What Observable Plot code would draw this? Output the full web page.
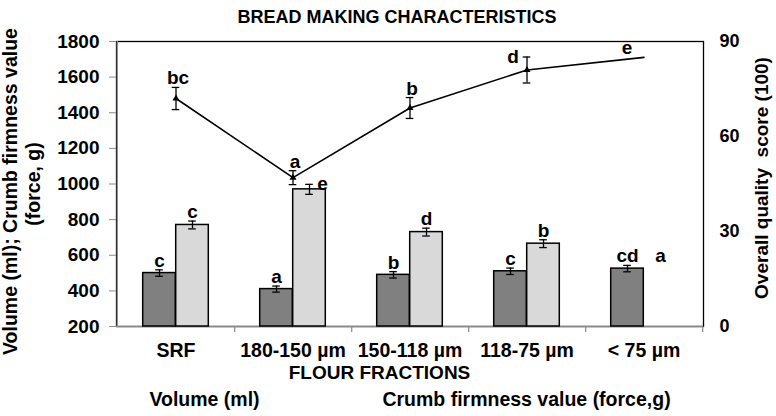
<!DOCTYPE html>
<html>
<head>
<meta charset="utf-8">
<script src="https://cdn.jsdelivr.net/npm/d3@7"></script>
<script src="https://cdn.jsdelivr.net/npm/@observablehq/plot@0.6"></script>
<style>
  body { margin: 0; background: #fff; }
  #chart svg { display: block; }
</style>
</head>
<body>
<div id="chart"></div>
<script>
const categories = ["SRF", "180-150 µm", "150-118 µm", "118-75 µm", "< 75 µm"];
const volume = [500, 410, 490, 510, 525];
const volumeErr = [18, 17, 18, 18, 18];
const firmness = [770, 970, 730, 665, null];
const firmnessErr = [22, 28, 22, 22, null];
const score = [72, 47, 69, 81, 85];
const scoreErr = [3.5, 2.2, 3.3, 4.1, null];
const volumeLetters = ["c", "a", "b", "c", "cd"];
const firmnessLetters = ["c", "e", "d", "b", "a"];
const scoreLetters = ["bc", "a", "b", "d", "e"];
const leftTicks = [200, 400, 600, 800, 1000, 1200, 1400, 1600, 1800];
const rightTicks = [0, 30, 60, 90];

const W = 776, H = 416;
const mL = 116, mR = 73, mT = 41, mB = 90;
const band = (W - mL - mR) / categories.length;
const barW = 33, capW = 8;
const barInset = (band - barW) / 2;
const capInset = (band - capW) / 2;
const off = barW / 2;

// right axis (0-90) mapped onto left axis (200-1800)
const toLeft = v => 200 + v * 1600 / 90;
const toRight = v => Math.round((v - 200) * 90 / 1600);

const rows = categories.map((c, i) => ({
  cat: c,
  volume: volume[i], volumeErr: volumeErr[i],
  firmness: firmness[i], firmnessErr: firmnessErr[i],
  score: score[i], scoreErr: scoreErr[i],
  vL: volumeLetters[i], fL: firmnessLetters[i], sL: scoreLetters[i]
}));
const hasF = d => d.firmness != null;
const hasS = d => d.scoreErr != null;

const font = "'Liberation Sans', Arial, Helvetica, sans-serif";
const fs = 19;
const txt = {fontWeight: "bold", fontSize: fs, fill: "black", fontFamily: font};

// label offsets (layout only)
const fLabelOff = {"180-150 µm": {dx: 13, dy: 0}};
const sLabelOff = {"118-75 µm": {dx: -14, dy: 0}, "< 75 µm": {dx: -17, dy: -9}};

const plot = Plot.plot({
  width: W, height: H,
  marginLeft: mL, marginRight: mR, marginTop: mT, marginBottom: mB,
  style: {fontFamily: font, background: "white", overflow: "visible"},
  x: {type: "band", domain: categories, padding: 0, axis: null},
  y: {domain: [200, 1800], axis: null},
  marks: [
    Plot.frame({stroke: "black", strokeWidth: 1.3}),
    Plot.ruleY([200], {stroke: "#8a8a8a", strokeWidth: 1.3}),
    Plot.ruleX([categories[0]], {x: d => d, dx: -band / 2, stroke: "#8a8a8a", strokeWidth: 1.3}),
    Plot.ruleX(categories, {x: d => d, dx: band / 2, y1: () => 200, y2: () => 200, insetBottom: -6, stroke: "#8a8a8a", strokeWidth: 1.2}),
    Plot.axisY(leftTicks, {anchor: "left", tickSize: 7, tickPadding: 10, tickFormat: d => String(d), stroke: "#8a8a8a", fill: "black", fontWeight: "bold", fontSize: 19, label: null}),
    Plot.axisY(rightTicks.map(toLeft), {anchor: "right", tickSize: 0, tickPadding: 16, tickFormat: toRight, fill: "black", fontWeight: "bold", fontSize: 18, label: null}),
    Plot.axisX({anchor: "bottom", tickSize: 0, tickPadding: 17, fill: "black", fontWeight: "bold", fontSize: 19.5, label: null}),

    // volume bars
    Plot.barY(rows, {x: "cat", y1: () => 200, y2: "volume", dx: -off, insetLeft: barInset, insetRight: barInset, fill: "#808080", stroke: "black", strokeWidth: 1.5}),
    // firmness bars
    Plot.barY(rows, {filter: hasF, x: "cat", y1: () => 200, y2: "firmness", dx: off, insetLeft: barInset, insetRight: barInset, fill: "#d9d9d9", stroke: "black", strokeWidth: 1.5}),

    // error bars volume
    Plot.ruleX(rows, {x: "cat", y1: d => d.volume - d.volumeErr, y2: d => d.volume + d.volumeErr, dx: -off, stroke: "black", strokeWidth: 1.3}),
    Plot.tickY(rows, {x: "cat", y: d => d.volume - d.volumeErr, dx: -off, insetLeft: capInset, insetRight: capInset, stroke: "black", strokeWidth: 1.3}),
    Plot.tickY(rows, {x: "cat", y: d => d.volume + d.volumeErr, dx: -off, insetLeft: capInset, insetRight: capInset, stroke: "black", strokeWidth: 1.3}),
    // error bars firmness
    Plot.ruleX(rows, {filter: hasF, x: "cat", y1: d => d.firmness - d.firmnessErr, y2: d => d.firmness + d.firmnessErr, dx: off, stroke: "black", strokeWidth: 1.3}),
    Plot.tickY(rows, {filter: hasF, x: "cat", y: d => d.firmness - d.firmnessErr, dx: off, insetLeft: capInset, insetRight: capInset, stroke: "black", strokeWidth: 1.3}),
    Plot.tickY(rows, {filter: hasF, x: "cat", y: d => d.firmness + d.firmnessErr, dx: off, insetLeft: capInset, insetRight: capInset, stroke: "black", strokeWidth: 1.3}),

    // score line
    Plot.line(rows, {x: "cat", y: d => toLeft(d.score), stroke: "black", strokeWidth: 1.6}),
    Plot.ruleX(rows, {filter: hasS, x: "cat", y1: d => toLeft(d.score - d.scoreErr), y2: d => toLeft(d.score + d.scoreErr), stroke: "black", strokeWidth: 1.3}),
    Plot.tickY(rows, {filter: hasS, x: "cat", y: d => toLeft(d.score - d.scoreErr), insetLeft: capInset, insetRight: capInset, stroke: "black", strokeWidth: 1.3}),
    Plot.tickY(rows, {filter: hasS, x: "cat", y: d => toLeft(d.score + d.scoreErr), insetLeft: capInset, insetRight: capInset, stroke: "black", strokeWidth: 1.3}),
    Plot.dot(rows, {filter: hasS, x: "cat", y: d => toLeft(d.score), symbol: "triangle", r: 2.6, fill: "black"}),

    // letters: volume
    Plot.text(rows, {x: "cat", y: d => d.volume + d.volumeErr, text: "vL", dx: -off, dy: -3, lineAnchor: "bottom", ...txt}),
    // letters: firmness
    ...rows.map(d => {
      const o = fLabelOff[d.cat];
      const yv = d.firmness != null ? d.firmness + d.firmnessErr : d.volume + d.volumeErr;
      return Plot.text([d], {x: "cat", y: () => yv, text: "fL", dx: off + (o ? o.dx : 0), dy: o ? o.dy : -3, lineAnchor: o ? "middle" : "bottom", ...txt});
    }),
    // letters: score
    ...rows.map(d => {
      const o = sLabelOff[d.cat];
      const yv = toLeft(d.score + (d.scoreErr || 0));
      return Plot.text([d], {x: "cat", y: () => yv, text: "sL", dx: o ? o.dx : 2, dy: o ? o.dy : -3, lineAnchor: o ? "middle" : "bottom", ...txt});
    }),

    // titles
    Plot.text(["BREAD MAKING CHARACTERISTICS"], {frameAnchor: "top", textAnchor: "middle", dx: -13, dy: -24, lineAnchor: "middle", ...txt, fontSize: 18}),
    Plot.text(["Volume (ml); Crumb firmness value"], {frameAnchor: "left", textAnchor: "middle", dx: -106, dy: 7.5, rotate: -90, lineAnchor: "middle", ...txt, fontSize: 19.5}),
    Plot.text(["(force, g)"], {frameAnchor: "left", textAnchor: "middle", dx: -83, dy: 0, rotate: -90, lineAnchor: "middle", ...txt, fontSize: 19.5}),
    Plot.text(["Overall quality  score (100)"], {frameAnchor: "right", textAnchor: "middle", dx: 58, dy: -6, rotate: -90, lineAnchor: "middle", ...txt}),
    Plot.text(["FLOUR FRACTIONS"], {frameAnchor: "bottom", textAnchor: "middle", dx: -30.5, dy: 46, lineAnchor: "middle", ...txt, fontSize: 19}),
    Plot.text(["Volume (ml)"], {frameAnchor: "bottom", textAnchor: "middle", dx: -205.5, dy: 73, lineAnchor: "middle", ...txt, fontSize: 19.5}),
    Plot.text(["Crumb firmness value (force,g)"], {frameAnchor: "bottom", textAnchor: "middle", dx: 116.5, dy: 73, lineAnchor: "middle", ...txt, fontSize: 19.5})
  ]
});
document.getElementById("chart").appendChild(plot);
</script>
</body>
</html>
